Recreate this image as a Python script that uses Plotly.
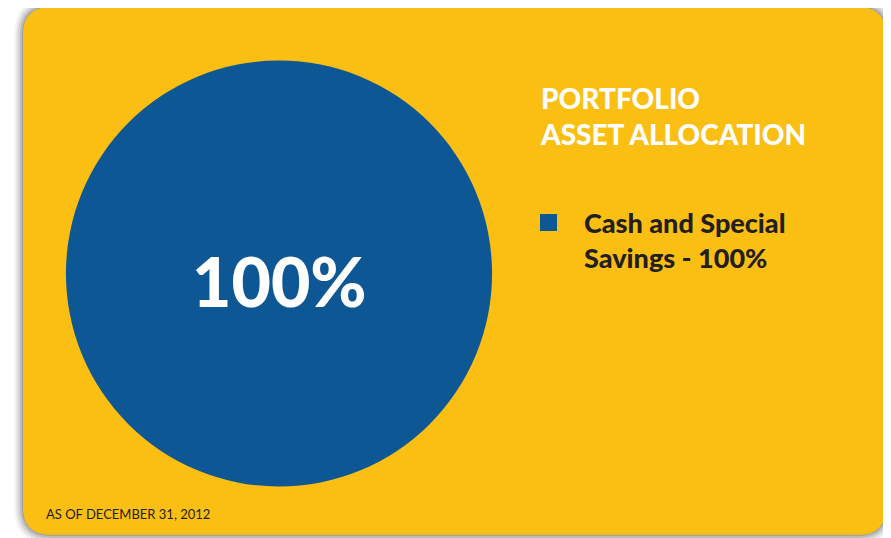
import plotly.graph_objects as go

# data
labels = ["Cash and Special Savings"]
values = [100]
center_text = "100%"
legend_text = "Cash and Special<br>Savings - 100%"
title_text = "PORTFOLIO<br>ASSET ALLOCATION"
footer_text = "AS OF DECEMBER 31, 2012"

W, H = 891, 538
OFF = 8  # the page body adds an 8px margin; shift everything back by it
YELLOW = "#FBBE12"
BLUE = "#0D5794"
DARK = "#231F20"
FONT = "Lato"


def rounded_rect(x0, y0, x1, y1, r):
    return (
        f"M{x0 + r},{y0} L{x1 - r},{y0} Q{x1},{y0} {x1},{y0 + r} "
        f"L{x1},{y1 - r} Q{x1},{y1} {x1 - r},{y1} L{x0 + r},{y1} "
        f"Q{x0},{y1} {x0},{y1 - r} L{x0},{y0 + r} Q{x0},{y0} {x0 + r},{y0} Z"
    )


fig = go.Figure()

# pie (single slice) placed by its domain, in paper fractions
px0, px1, py0, py1 = 66, 492, 60, 487
fig.add_trace(
    go.Pie(
        labels=labels,
        values=values,
        marker={"colors": [BLUE], "line": {"width": 0}},
        textinfo="none",
        hoverinfo="label+percent",
        sort=False,
        showlegend=False,
        domain={
            "x": [(px0 - OFF) / W, (px1 - OFF) / W],
            "y": [1 - (py1 - OFF) / H, 1 - (py0 - OFF) / H],
        },
    )
)

shapes = []
# soft shadow around the card
for i, op in enumerate([0.04, 0.06, 0.08, 0.11, 0.15]):
    g = 9 - i * 2
    shapes.append(
        {
            "type": "path",
            "xref": "x",
            "yref": "y",
            "path": rounded_rect(23 - g, 7 - g, 886 + g, 535 + g, 28 + g),
            "fillcolor": f"rgba(0,0,0,{op})",
            "line": {"width": 0},
            "layer": "below",
        }
    )
shapes.append(
    {
        "type": "path",
        "xref": "x",
        "yref": "y",
        "path": rounded_rect(23, 7, 886, 535, 28),
        "fillcolor": YELLOW,
        "line": {"width": 0},
        "layer": "below",
    }
)
# legend swatch
shapes.append(
    {
        "type": "rect",
        "xref": "x",
        "yref": "y",
        "x0": 540,
        "x1": 557,
        "y0": 214,
        "y1": 231,
        "fillcolor": BLUE,
        "line": {"width": 0},
    }
)

annotations = [
    {
        "text": center_text,
        "x": 279,
        "y": 280,
        "xref": "x",
        "yref": "y",
        "showarrow": False,
        "font": {"family": FONT, "size": 68, "color": "white", "weight": 900},
    },
    {
        "text": title_text,
        "x": 538,
        "y": 79,
        "xref": "x",
        "yref": "y",
        "xanchor": "left",
        "yanchor": "top",
        "align": "left",
        "showarrow": False,
        "font": {"family": FONT, "size": 28, "color": "white", "weight": 900},
    },
    {
        "text": legend_text,
        "x": 582,
        "y": 204,
        "xref": "x",
        "yref": "y",
        "xanchor": "left",
        "yanchor": "top",
        "align": "left",
        "showarrow": False,
        "font": {"family": FONT, "size": 27, "color": DARK, "weight": 900},
    },
    {
        "text": footer_text,
        "x": 44,
        "y": 514,
        "xref": "x",
        "yref": "y",
        "xanchor": "left",
        "yanchor": "middle",
        "align": "left",
        "showarrow": False,
        "font": {"family": FONT, "size": 13, "color": DARK},
    },
]

fig.update_layout(
    width=W,
    height=H,
    margin={"l": 0, "r": 0, "t": 0, "b": 0, "pad": 0},
    paper_bgcolor="white",
    plot_bgcolor="rgba(0,0,0,0)",
    xaxis={"range": [OFF, W + OFF], "visible": False, "fixedrange": True},
    yaxis={"range": [H + OFF, OFF], "visible": False, "fixedrange": True},
    shapes=shapes,
    annotations=annotations,
    showlegend=False,
)

fig.write_html("out.html")
